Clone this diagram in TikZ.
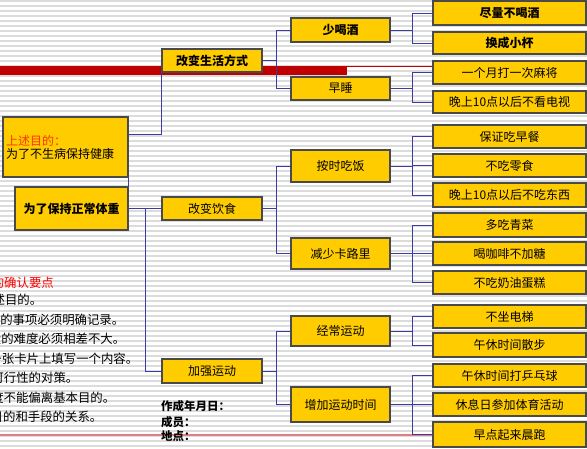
\documentclass[tikz,border=0pt]{standalone}
\usepackage{fontspec}
\setmainfont{Noto Sans CJK SC}
\usepackage{tikz}
\usetikzlibrary{arrows.meta,positioning}
\definecolor{gold}{HTML}{FFCC00}
\definecolor{boxline}{HTML}{4A4A4A}
\definecolor{link}{HTML}{3B3BA3}
\definecolor{band}{HTML}{C00000}
\definecolor{stripe}{HTML}{DCDCDC}
\definecolor{aimred}{HTML}{FF3300}
\newcommand{\planbox}[5]{
  \node[box,minimum width=#3,minimum height=#4] (#1) at #2 {#5};
}

\begin{document}
\begin{tikzpicture}[x=1pt,y=-1pt,
  box/.style={draw=boxline,fill=gold,line width=1.1pt,inner sep=1pt,font=\fontsize{12}{13}\selectfont},
  wire/.style={draw=link,line width=0.9pt},
  note/.style={font=\fontsize{12.4}{13}\selectfont,inner sep=0pt}]
  \useasboundingbox (0,0) rectangle (587,448);
  \clip (0,0) rectangle (587,448);
  \fill[white] (0,0) rectangle (587,448);
  \foreach \y in {1,6,...,448}
    \draw[draw=stripe,line width=2pt] (0,\y) -- (587,\y);
  % red bands
  \fill[band] (0,65.5) rectangle (347,75);
  \draw[band,line width=1.5pt] (347,66.5) -- (433,66.5);
  \draw[band!50,line width=1.3pt] (0,435) -- (433,435);

  % aim and means
  \node[box,minimum width=125pt,minimum height=60pt,text width=119pt,align=left] (aim) at (65.5,147)
    {\textcolor{aimred}{上述目的：}\\为了不生病保持健康};
  \planbox{weight}{(71.5,208.5)}{113pt}{43pt}{\textbf{为了保持正常体重}}

  \planbox{life}{(212,60.5)}{100pt}{23pt}{\textbf{改变生活方式}}
  \planbox{diet}{(212,208.5)}{100pt}{23pt}{改变饮食}
  \planbox{sport}{(212,371)}{100pt}{24pt}{加强运动}

  \planbox{drink}{(340.5,30)}{99pt}{24pt}{\textbf{少喝酒}}
  \planbox{sleep}{(340.5,88.5)}{99pt}{23pt}{早睡}
  \planbox{meal}{(340.5,166)}{99pt}{32pt}{按时吃饭}
  \planbox{calorie}{(340.5,253.5)}{99pt}{31pt}{减少卡路里}
  \planbox{often}{(340.5,331)}{99pt}{30pt}{经常运动}
  \planbox{moretime}{(340.5,404.5)}{99pt}{35pt}{增加运动时间}

  \planbox{d1}{(509.5,13)}{153pt}{24pt}{\textbf{尽量不喝酒}}
  \planbox{d2}{(509.5,43)}{153pt}{22pt}{\textbf{换成小杯}}
  \planbox{s1}{(509.5,72.5)}{153pt}{23pt}{一个月打一次麻将}
  \planbox{s2}{(509.5,102)}{153pt}{22pt}{晚上10点以后不看电视}
  \planbox{m1}{(509.5,136.5)}{153pt}{23pt}{保证吃早餐}
  \planbox{m2}{(509.5,165.5)}{153pt}{23pt}{不吃零食}
  \planbox{m3}{(509.5,195)}{153pt}{24pt}{晚上10点以后不吃东西}
  \planbox{c1}{(509.5,225)}{153pt}{24pt}{多吃青菜}
  \planbox{c2}{(509.5,253.5)}{153pt}{23pt}{喝咖啡不加糖}
  \planbox{c3}{(509.5,282.5)}{153pt}{23pt}{不吃奶油蛋糕}
  \planbox{o1}{(509.5,316.5)}{153pt}{23pt}{不坐电梯}
  \planbox{o2}{(509.5,345)}{153pt}{24pt}{午休时间散步}
  \planbox{t1}{(509.5,375.5)}{153pt}{23pt}{午休时间打乒乓球}
  \planbox{t2}{(509.5,404.5)}{153pt}{23pt}{休息日参加体育活动}
  \planbox{t3}{(509.5,434.5)}{153pt}{25pt}{早点起来晨跑}

  % connectors
  \draw[wire] ([yshift=13pt]aim.east) -| (life.south west);
  \draw[wire] (aim.south east) -- (weight.north east);
  \draw[wire,line width=1.6pt] (weight.east) -- (diet.west);
  \draw[wire] (weight.east) -- ++(17,0) |- (sport.west);
  \foreach \a/\b in {life/drink,life/sleep,diet/meal,diet/calorie,sport/often,sport/moretime}
    \draw[wire] (\a.east) -- ++(14,0) |- (\b.west);
  \foreach \a/\b in {drink/d1,drink/d2,sleep/s1,sleep/s2,meal/m1,meal/m2,meal/m3,
      calorie/c1,calorie/c2,calorie/c3,often/o1,often/o2,moretime/t1,moretime/t3}
    \draw[wire] (\a.east) -- ++(22,0) |- (\b.west);
  \draw[wire,line width=1.6pt] (moretime.east) -- (t2.west);

  % check points on the left
  \node[note,anchor=east,text=red] (k0) at (54,283) {的确认要点};
  \node[note,anchor=east] (k1) at (42.5,300) {述目的。};
  \node[note,anchor=east] (k2) at (124.5,320) {的事项必须明确记录。};
  \node[note,anchor=east] (k3) at (125.5,339) {段的难度必须相差不大。};
  \node[note,anchor=east] (k4) at (138.5,359) {一张卡片上填写一个内容。};
  \node[note,anchor=east] (k5) at (78.5,378) {可行性的对策。};
  \node[note,anchor=east] (k6) at (115.5,398) {度不能偏离基本目的。};
  \node[note,anchor=east] (k7) at (102.5,417) {目的和手段的关系。};

  \node[note,anchor=west,font=\fontsize{11.5}{13}\selectfont\bfseries] (date) at (161,406) {作成年月日：};
  \node[note,anchor=west,font=\fontsize{11.5}{13}\selectfont\bfseries] (member) at (161,422) {成员：};
  \node[note,anchor=west,font=\fontsize{11.5}{13}\selectfont\bfseries] (place) at (161,436) {地点：};
\end{tikzpicture}
\end{document}
